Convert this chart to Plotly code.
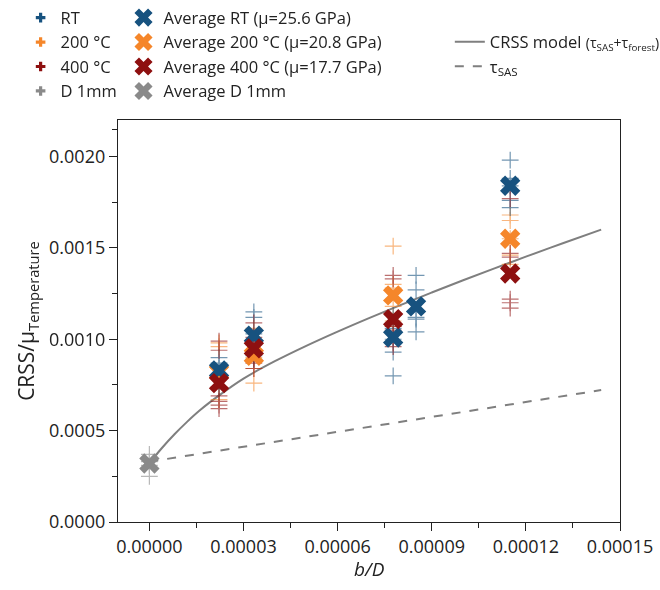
import plotly.graph_objects as go

# ---- individual measurements (b/D, CRSS/mu) ----
rt_x = [2.22e-5]*5 + [3.33e-5]*6 + [7.77e-5]*5 + [8.5e-5]*5 + [1.15e-4]*5
rt_y = [0.00090, 0.00087, 0.00084, 0.00080, 0.00073,
        0.00115, 0.00112, 0.00103, 0.00098, 0.00091, 0.00089,
        0.00113, 0.00106, 0.00100, 0.00093, 0.00080,
        0.00135, 0.00127, 0.00112, 0.00111, 0.00104,
        0.00198, 0.00188, 0.00184, 0.00176, 0.00172]

t200_x = [2.22e-5]*5 + [3.33e-5]*6 + [7.77e-5]*6 + [1.15e-4]*5
t200_y = [0.00098, 0.00096, 0.00080, 0.00074, 0.00067,
          0.00106, 0.00099, 0.00090, 0.00088, 0.00084, 0.00076,
          0.00151, 0.00130, 0.00128, 0.00118, 0.00110, 0.00107,
          0.00168, 0.00165, 0.00155, 0.00146, 0.00141]

t400_x = [2.22e-5]*6 + [3.33e-5]*5 + [7.77e-5]*6 + [1.15e-4]*6
t400_y = [0.00099, 0.00094, 0.00069, 0.00066, 0.00064, 0.00062,
          0.00109, 0.00101, 0.00097, 0.00087, 0.00084,
          0.00135, 0.00133, 0.00107, 0.00105, 0.00098, 0.00096,
          0.00177, 0.00147, 0.00145, 0.00122, 0.00120, 0.00117]

d1_x = [0.0, 0.0, 0.0, 0.0]
d1_y = [0.00037, 0.00033, 0.00031, 0.00025]

# ---- averages ----
avg_rt_x = [2.22e-5, 3.33e-5, 7.77e-5, 8.5e-5, 1.15e-4]
avg_rt_y = [0.00083, 0.00102, 0.00101, 0.00118, 0.00184]
avg_200_x = [2.22e-5, 3.33e-5, 7.77e-5, 1.15e-4]
avg_200_y = [0.00082, 0.00091, 0.00124, 0.00155]
avg_400_x = [2.22e-5, 3.33e-5, 7.77e-5, 1.15e-4]
avg_400_y = [0.00076, 0.00095, 0.00111, 0.00136]
avg_d1_x = [0.0]
avg_d1_y = [0.00032]

# ---- model curves ----
model_x = [0.0, 4.0e-6, 8.0e-6, 1.2e-5, 1.6e-5, 2.2e-5, 3.0e-5, 4.0e-5, 5.0e-5, 6.0e-5,
           7.0e-5, 8.0e-5, 9.0e-5, 1.0e-4, 1.1e-4, 1.2e-4, 1.32e-4, 1.44e-4]
model_y = [0.000322, 0.000405, 0.000480, 0.000548, 0.000610, 0.000690, 0.000785, 0.000880,
           0.000964, 0.001042, 0.001116, 0.001187, 0.001256, 0.001323, 0.001388, 0.001452,
           0.001527, 0.001600]
sas_x = [0.0, 1.44e-4]
sas_y = [0.000330, 0.000722]

C_RT = "#17527f"
C_200 = "#f5862a"
C_400 = "#8e1010"
C_D1 = "#8a8a8a"
FONT = "Open Sans"

fig = go.Figure()

# model lines
fig.add_trace(go.Scatter(x=model_x, y=model_y, mode="lines", line=dict(color="#7f7f7f", width=2, shape="spline"),
                         name="CRSS model <span style='font-size:14px'>(τ<sub>SAS</sub>+τ<sub>forest</sub>)</span>",
                         legend="legend3", legendgroup="m1", legendrank=1))
fig.add_trace(go.Scatter(x=sas_x, y=sas_y, mode="lines", line=dict(color="#7f7f7f", width=2, dash="dash"),
                         name="τ<sub>SAS</sub>", legend="legend3", legendgroup="m2", legendrank=2))

# individual points
for xs, ys, col in [(d1_x, d1_y, C_D1), (t200_x, t200_y, C_200), (rt_x, rt_y, C_RT), (t400_x, t400_y, C_400)]:
    fig.add_trace(go.Scatter(x=xs, y=ys, mode="markers", showlegend=False, opacity=0.6,
                             marker=dict(symbol="cross-thin", size=12, line=dict(color=col, width=1.2))))

# averages
for xs, ys, col in [(avg_d1_x, avg_d1_y, C_D1), (avg_200_x, avg_200_y, C_200),
                    (avg_rt_x, avg_rt_y, C_RT), (avg_400_x, avg_400_y, C_400)]:
    fig.add_trace(go.Scatter(x=xs, y=ys, mode="markers", showlegend=False,
                             marker=dict(symbol="x", size=18, color=col, line=dict(width=0))))

# legend entries for measurements
for i, (nm, col) in enumerate([("RT", C_RT), ("200 °C", C_200), ("400 °C", C_400), ("D 1mm", C_D1)]):
    fig.add_trace(go.Scatter(x=[None], y=[None], mode="markers", name=nm, legend="legend",
                             legendgroup="p%d" % i, legendrank=i,
                             marker=dict(symbol="cross", size=8, color=col, line=dict(width=0))))

# legend entries for averages
for i, (nm, col) in enumerate([("Average RT (μ=25.6 GPa)", C_RT), ("Average 200 °C (μ=20.8 GPa)", C_200),
                               ("Average 400 °C (μ=17.7 GPa)", C_400), ("Average D 1mm", C_D1)]):
    fig.add_trace(go.Scatter(x=[None], y=[None], mode="markers", name=nm, legend="legend2",
                             legendgroup="a%d" % i, legendrank=i,
                             marker=dict(symbol="x", size=17, color=col, line=dict(width=0))))

leg_common = dict(bgcolor="rgba(0,0,0,0)", font=dict(family=FONT, size=16.5, color="#222"),
                  tracegroupgap=0, yanchor="top", xanchor="left", itemsizing="trace")

fig.update_layout(
    width=660, height=590,
    margin=dict(l=118, r=40, t=120, b=68, autoexpand=False),
    plot_bgcolor="white", paper_bgcolor="white",
    font=dict(family=FONT, size=18, color="#222"),
    legend=dict(x=-0.194, y=1.2976, **leg_common),
    legend2=dict(x=0.011, y=1.2976, **leg_common),
    legend3=dict(x=0.661, y=1.2376, **leg_common),
    xaxis=dict(range=[-1.0e-5, 1.5e-4], tickvals=[0, 3e-5, 6e-5, 9e-5, 1.2e-4, 1.5e-4],
               ticktext=["0.00000", "0.00003", "0.00006", "0.00009", "0.00012", "0.00015"],
               showgrid=False, zeroline=False, showline=True, linecolor="#222", linewidth=1.3,
               mirror=True, ticks="outside", ticklen=8, tickwidth=1.3, tickcolor="#222",
               minor=dict(tickvals=[1.5e-5, 4.5e-5, 7.5e-5, 1.05e-4, 1.35e-4], ticks="outside",
                          ticklen=5, tickwidth=1.3, tickcolor="#222")),
    yaxis=dict(range=[0, 0.0022], tickvals=[0, 0.0005, 0.001, 0.0015, 0.002],
               ticktext=["0.0000", "0.0005", "0.0010", "0.0015", "0.0020"],
               showgrid=False, zeroline=False, showline=True, linecolor="#222", linewidth=1.3,
               mirror=True, ticks="outside", ticklen=8, tickwidth=1.3, tickcolor="#222",
               minor=dict(tickvals=[0.00025, 0.00075, 0.00125, 0.00175, 0.00215], ticks="outside",
                          ticklen=5, tickwidth=1.3, tickcolor="#222"),
               title=dict(text="CRSS/μ<sub>Temperature</sub>", font=dict(size=21), standoff=8)),
    annotations=[dict(text="<i>b/D</i>", xref="paper", yref="paper", x=0.5, y=-0.118,
                      xanchor="center", yanchor="middle", showarrow=False,
                      font=dict(family=FONT, size=19, color="#222"))],
)

fig.write_html("out.html")
